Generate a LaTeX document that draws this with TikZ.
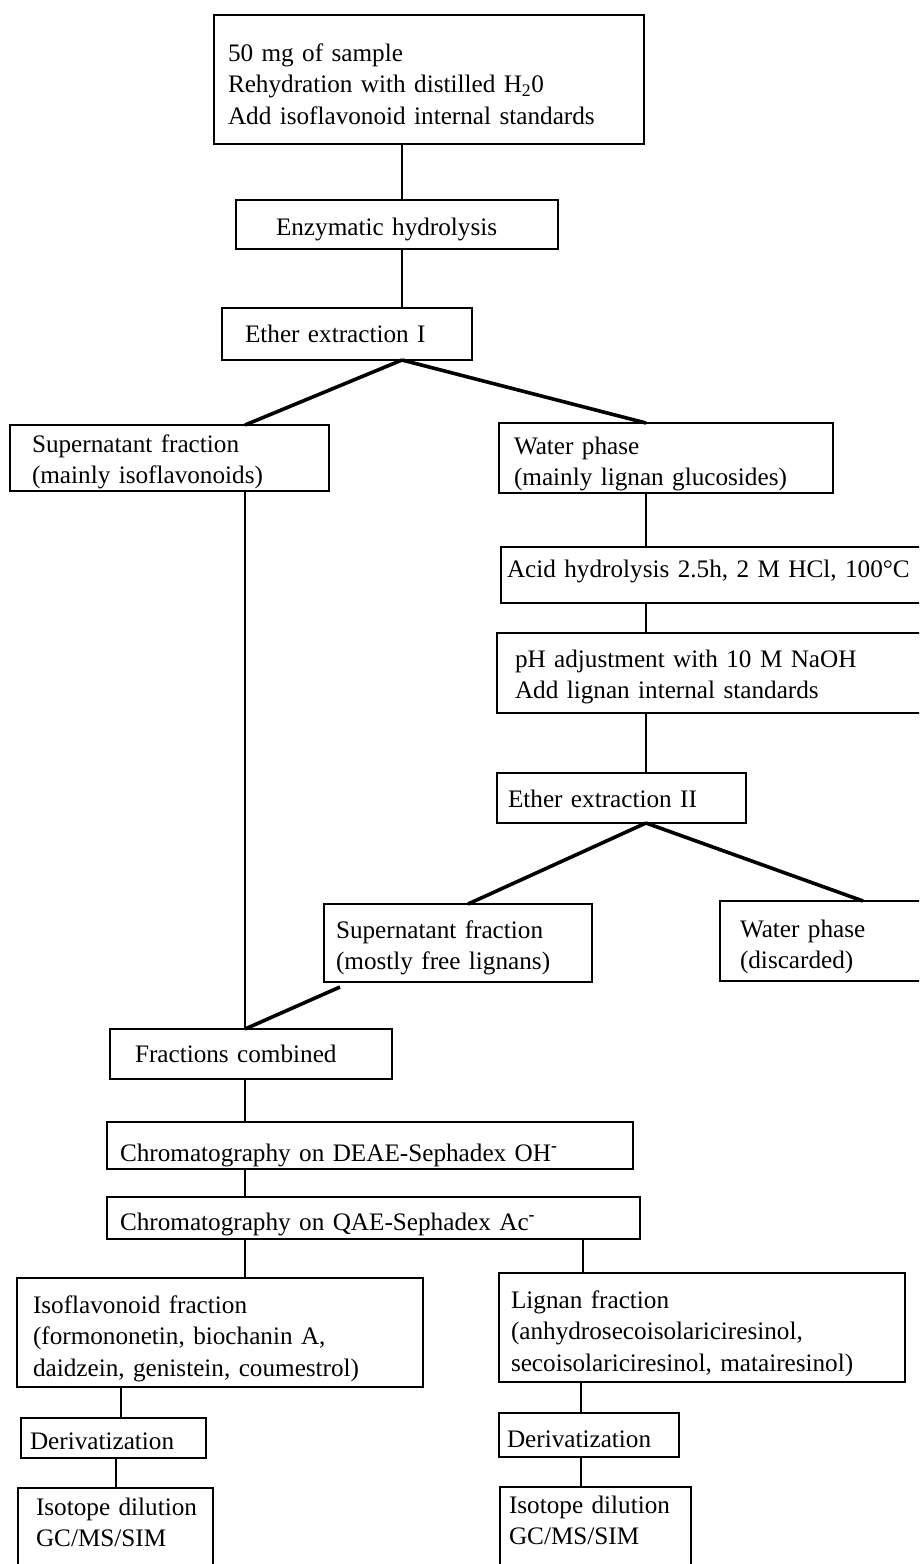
\documentclass[tikz,border=0pt]{standalone}
\usepackage{fontspec}
\setmainfont{Liberation Serif}
\tikzset{
  boxst/.style={draw=black, line width=2.6pt, rectangle, inner sep=0pt, outer sep=0pt},
  txt/.style={anchor=base west, inner sep=0pt, outer sep=0pt, text width=600pt, align=left,
              font=\fontsize{25.2}{31.5}\selectfont},
  vline/.style={draw=black, line width=2pt},
  dline/.style={draw=black, line width=3.6pt}
}
\newcommand\flowbox[5]{%
  \node[boxst, minimum width={#4-#2}, minimum height={#5-#3}] (#1) at ({(#2+#4)/2},{(#3+#5)/2}) {};}
\begin{document}
\begin{tikzpicture}[x=1pt,y=-1pt]
\useasboundingbox (0,0) rectangle (919,1564);
\clip (0,0) rectangle (919,1564);
\fill[white] (0,0) rectangle (919,1564);
% columns
\coordinate (ca) at (402,0);
\coordinate (cb) at (646,0);
\coordinate (cc) at (245,0);
\coordinate (cd) at (583,0);
\coordinate (ce) at (121,0);
\coordinate (cf) at (116,0);
\coordinate (cg) at (581,0);
\coordinate (c9) at (468,0);
\coordinate (c10) at (863,0);
% boxes
\flowbox{b1}{214}{15}{644}{144}
\node[txt] (t1) at (228,61) {50 mg of sample\\Rehydration with distilled H\textsubscript{2}0\\Add isoflavonoid internal standards};
\flowbox{b2}{236}{200}{558}{249}
\node[txt] (t2) at (276,235) {Enzymatic hydrolysis};
\flowbox{b3}{222}{308}{472}{360}
\node[txt] (t3) at (245,342) {Ether extraction I};
\flowbox{b4}{10}{425}{329}{491}
\node[txt] (t4) at (32,452) {Supernatant fraction\\(mainly isoflavonoids)};
\flowbox{b5}{499}{423}{833}{493}
\node[txt] (t5) at (514,454) {Water phase\\(mainly lignan glucosides)};
\flowbox{b6}{501}{547}{940}{603}
\node[txt] (t6) at (507,577) {Acid hydrolysis 2.5h, 2 M HCl, 100°C};
\flowbox{b7}{497}{633}{940}{713}
\node[txt] (t7) at (515,667) {pH adjustment with 10 M NaOH\\Add lignan internal standards};
\flowbox{b8}{497}{773}{746}{823}
\node[txt] (t8) at (508,807) {Ether extraction II};
\flowbox{b9}{324}{904}{592}{982}
\node[txt] (t9) at (336,938) {Supernatant fraction\\(mostly free lignans)};
\flowbox{b10}{720}{901}{940}{981}
\node[txt] (t10) at (740,937) {Water phase\\(discarded)};
\flowbox{b11}{110}{1029}{392}{1079}
\node[txt] (t11) at (135,1062) {Fractions combined};
\flowbox{b12}{107}{1122}{633}{1169}
\node[txt] (t12) at (120,1161) {Chromatography on DEAE-Sephadex OH\textsuperscript{\textbf{-}}};
\flowbox{b13}{107}{1197}{640}{1239}
\node[txt] (t13) at (120,1230) {Chromatography on QAE-Sephadex Ac\textsuperscript{\textbf{-}}};
\flowbox{b14}{17}{1278}{423}{1387}
\node[txt] (t14) at (33,1313) {Isoflavonoid fraction\\(formononetin, biochanin A,\\daidzein, genistein, coumestrol)};
\flowbox{b15}{499}{1273}{905}{1382}
\node[txt] (t15) at (511,1308) {Lignan fraction\\(anhydrosecoisolariciresinol,\\secoisolariciresinol, matairesinol)};
\flowbox{b16}{21}{1418}{206}{1458}
\node[txt] (t16) at (30,1449) {Derivatization};
\flowbox{b17}{18}{1488}{213}{1600}
\node[txt] (t17) at (36,1515) {Isotope dilution\\GC/MS/SIM};
\flowbox{b18}{499}{1413}{679}{1457}
\node[txt] (t18) at (507,1447) {Derivatization};
\flowbox{b19}{500}{1487}{691}{1600}
\node[txt] (t19) at (509,1513) {Isotope dilution\\GC/MS/SIM};
\coordinate (s9) at ([xshift=16pt,yshift=-5pt]b9.south west);
% connectors
\draw[vline] (b1.south -| ca) -- (b2.north -| ca);
\draw[vline] (b2.south -| ca) -- (b3.north -| ca);
\draw[dline] (b3.south -| ca) -- (b4.north -| cc);
\draw[dline] (b3.south -| ca) -- (b5.north -| cb);
\draw[vline] (b4.south -| cc) -- (b11.north -| cc);
\draw[vline] (b5.south -| cb) -- (b6.north -| cb);
\draw[vline] (b6.south -| cb) -- (b7.north -| cb);
\draw[vline] (b7.south -| cb) -- (b8.north -| cb);
\draw[dline] (b8.south -| cb) -- (b9.north -| c9);
\draw[dline] (b8.south -| cb) -- (b10.north -| c10);
\draw[dline] (s9) -- (b11.north -| cc);
\draw[vline] (b11.south -| cc) -- (b12.north -| cc);
\draw[vline] (b12.south -| cc) -- (b13.north -| cc);
\draw[vline] (b13.south -| cc) -- (b14.north -| cc);
\draw[vline] (b13.south -| cd) -- (b15.north -| cd);
\draw[vline] (b14.south -| ce) -- (b16.north -| ce);
\draw[vline] (b16.south -| cf) -- (b17.north -| cf);
\draw[vline] (b15.south -| cg) -- (b18.north -| cg);
\draw[vline] (b18.south -| cg) -- (b19.north -| cg);
\end{tikzpicture}
\end{document}
